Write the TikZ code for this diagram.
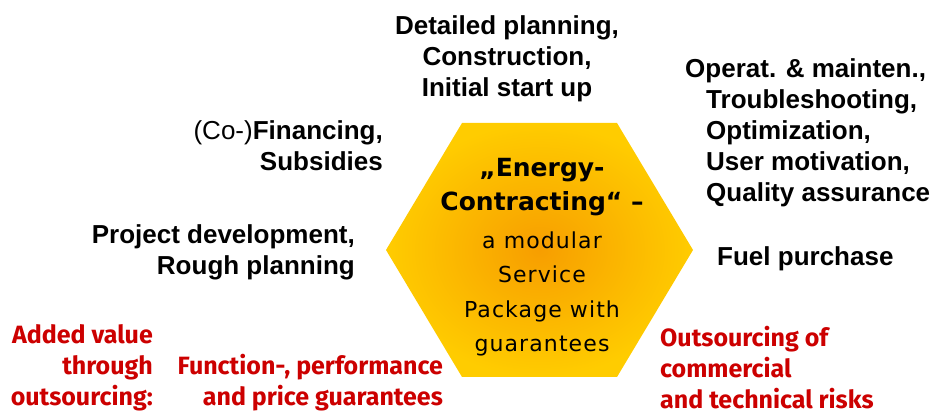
\documentclass[tikz,border=0pt]{standalone}
\usepackage{fontspec}
\setmainfont{Liberation Sans}
\newfontfamily\redfont{Fira Sans}
\newfontfamily\corefont[LetterSpace=5]{DejaVu Sans}
\newfontfamily\corebold{DejaVu Sans Bold}
\definecolor{hexyellow}{RGB}{255,204,0}
\definecolor{hexorange}{RGB}{247,158,0}
\definecolor{riskred}{RGB}{204,0,0}

\begin{document}
\begin{tikzpicture}[x=1pt,y=-1pt,
	task/.style={font=\fontsize{26}{31}\selectfont\bfseries,inner sep=0pt},
	gain/.style={font=\redfont\fontsize{25}{31}\selectfont\bfseries,text=riskred,inner sep=0pt},
	core/.style={font=\corefont\fontsize{22}{34.5}\selectfont,align=center,inner sep=0pt}]
	\useasboundingbox (0,0) rectangle (935,411);
	% hexagon
	\path[inner color=hexorange,outer color=hexyellow]
	(386,250) -- (462,123) -- (617,123) -- (693,250) -- (617,377) -- (462,377) -- cycle;
	\node[core] (offer) at (542,257)
	{{\corebold\fontsize{25}{34.5}\selectfont „Energy-}\\
		{\corebold\fontsize{25}{34.5}\selectfont Contracting“ –}\\[3pt]
		a modular\\Service\\Package with\\guarantees};
	% services round the hexagon
	\node[task,align=center] (build) at (507,59)
	{Detailed planning,\\Construction,\\Initial start up};
	\node[task,align=left,anchor=west] (operate) at (685,132.5)
	{Operat. \& mainten.,\\
		\hspace*{21pt}Troubleshooting,\\
		\hspace*{21pt}Optimization,\\
		\hspace*{21pt}User motivation,\\
		\hspace*{21pt}Quality assurance};
	\node[task,anchor=west] (fuel) at (717,259) {Fuel purchase};
	\node[task,align=right,anchor=east] (finance) at (383,146)
	{{\mdseries(Co-)}Financing,\\Subsidies};
	\node[task,align=right,anchor=east] (develop) at (355,252)
	{Project development,\\Rough planning};
	% added value
	\node[gain,align=right,anchor=east] (value) at (153,368)
	{Added value\\through\\outsourcing:};
	\node[gain,align=right,anchor=east] (guarantee) at (443,383)
	{Function-, performance\\and price guarantees};
	\node[gain,align=left,anchor=west] (risk) at (660,368)
	{Outsourcing of\\commercial\\and technical risks};
\end{tikzpicture}
\end{document}
